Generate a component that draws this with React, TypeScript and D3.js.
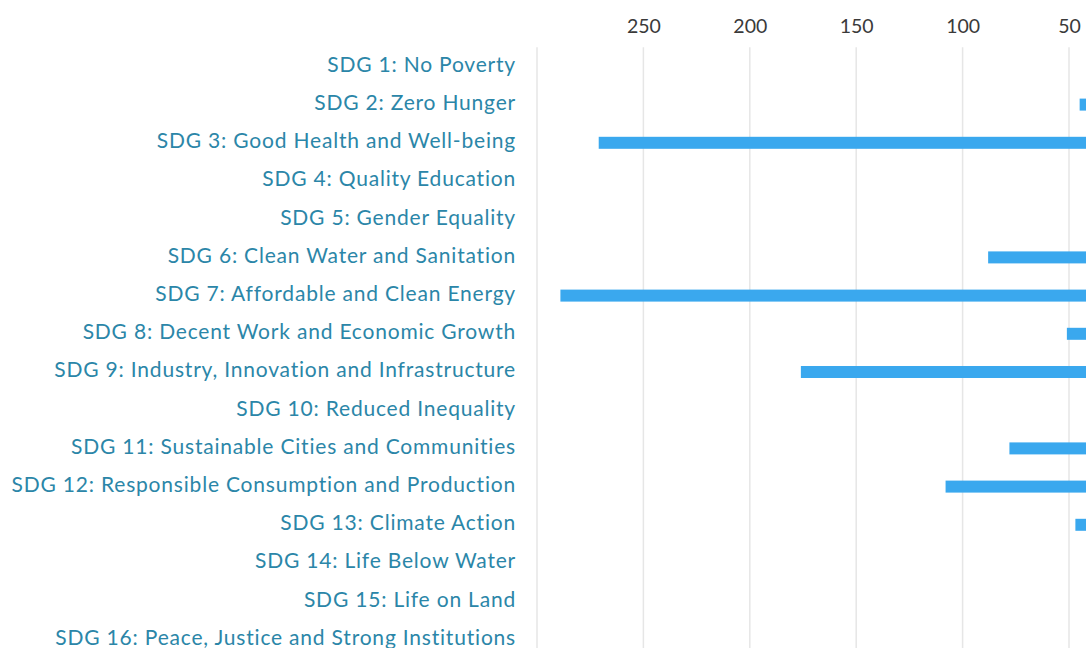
import { useEffect, useRef } from 'react'
import * as d3 from 'd3'

const CATEGORIES = [
  'SDG 1: No Poverty',
  'SDG 2: Zero Hunger',
  'SDG 3: Good Health and Well-being',
  'SDG 4: Quality Education',
  'SDG 5: Gender Equality',
  'SDG 6: Clean Water and Sanitation',
  'SDG 7: Affordable and Clean Energy',
  'SDG 8: Decent Work and Economic Growth',
  'SDG 9: Industry, Innovation and Infrastructure',
  'SDG 10: Reduced Inequality',
  'SDG 11: Sustainable Cities and Communities',
  'SDG 12: Responsible Consumption and Production',
  'SDG 13: Climate Action',
  'SDG 14: Life Below Water',
  'SDG 15: Life on Land',
  'SDG 16: Peace, Justice and Strong Institutions',
]

const VALUES = [0, 45, 271, 0, 0, 88, 289, 51, 176, 0, 78, 108, 47, 0, 0, 0]

const TICKS = [250, 200, 150, 100, 50, 0]
const GRID = [300, 250, 200, 150, 100, 50, 0]

const W = 1086
const H = 648

export default function App() {
  const ref = useRef<SVGSVGElement>(null)

  useEffect(() => {
    if (!ref.current) return
    const svg = d3.select(ref.current)
    svg.selectAll('*').remove()

    const left = 537
    const top = 47.3
    const step = 38.2
    const font = 'Lato, "Open Sans", sans-serif'

    const x = d3.scaleLinear().domain([300, 0]).range([left, 1175.4])
    const y = d3
      .scaleBand<string>()
      .domain(CATEGORIES)
      .range([top, top + step * CATEGORIES.length])
      .paddingInner(0.686)
      .paddingOuter(0.343)

    // gridlines
    svg
      .append('g')
      .selectAll('line')
      .data(GRID)
      .enter()
      .append('line')
      .attr('x1', (d) => x(d))
      .attr('x2', (d) => x(d))
      .attr('y1', top)
      .attr('y2', top + step * CATEGORIES.length)
      .attr('stroke', '#e6e6e6')
      .attr('stroke-width', 1.5)

    // top axis labels
    const axis = svg
      .append('g')
      .attr('transform', `translate(0,${top})`)
      .call(d3.axisTop(x).tickValues(TICKS).tickSize(0).tickPadding(14))
    axis.select('.domain').remove()
    axis
      .selectAll('.tick text')
      .attr('fill', '#3a3a3a')
      .attr('font-size', '19.5px')
      .attr('font-family', font)

    // bars
    svg
      .append('g')
      .selectAll('rect')
      .data(VALUES)
      .enter()
      .append('rect')
      .attr('x', (d) => x(d))
      .attr('y', (_, i) => y(CATEGORIES[i]) as number)
      .attr('width', (d) => x(0) - x(d))
      .attr('height', y.bandwidth())
      .attr('fill', '#3aa8ee')

    // category labels
    svg
      .append('g')
      .selectAll('text')
      .data(CATEGORIES)
      .enter()
      .append('text')
      .attr('x', 516)
      .attr('y', (d) => (y(d) as number) + y.bandwidth() / 2)
      .attr('text-anchor', 'end')
      .attr('dominant-baseline', 'middle')
      .attr('fill', '#2b86a8')
      .attr('font-size', '21px')
      .attr('letter-spacing', '0.8px')
      .attr('font-family', font)
      .text((d) => d)
  }, [])

  return (
    <div style={{ position: 'absolute', left: 0, top: 0, width: W, height: H, overflow: 'hidden', background: '#fff' }}>
      <svg ref={ref} width={W} height={H} />
    </div>
  )
}
